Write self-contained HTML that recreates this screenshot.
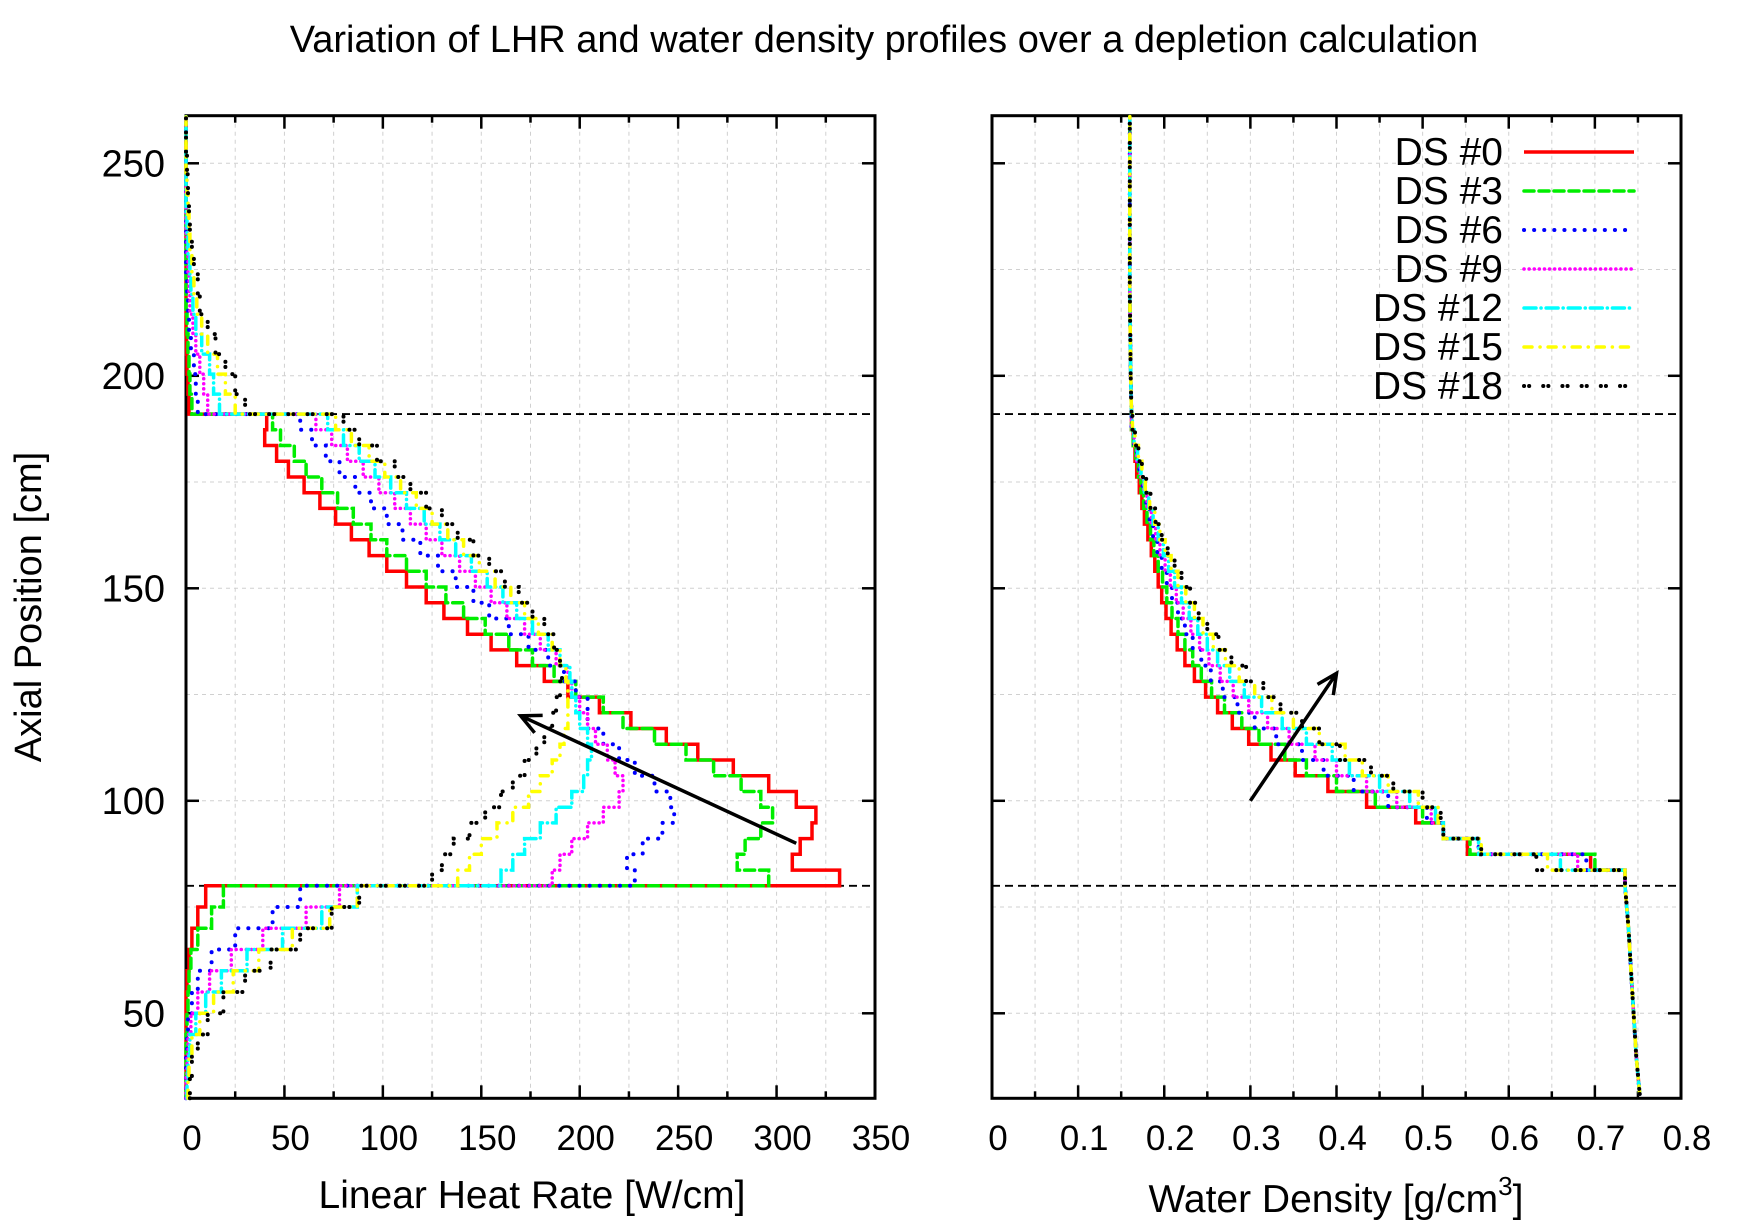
<!DOCTYPE html>
<html><head><meta charset="utf-8"><style>
html,body{margin:0;padding:0;background:#fff;}
svg text{font-family:"Liberation Sans",sans-serif;fill:#000;}
</style></head><body>
<svg id="chart" xmlns="http://www.w3.org/2000/svg" width="1750" height="1225" viewBox="0 0 1750 1225">
<rect x="0" y="0" width="1750" height="1225" fill="#fff"/>
<text x="884" y="52" font-size="38" text-anchor="middle">Variation of LHR and water density profiles over a depletion calculation</text>
<text x="0" y="0" font-size="38" text-anchor="middle" transform="translate(41,607) rotate(-90)">Axial Position [cm]</text>
<text x="532" y="1208" font-size="39" text-anchor="middle">Linear Heat Rate [W/cm]</text>
<text x="1336" y="1212" font-size="39" text-anchor="middle">Water Density [g/cm<tspan dy="-17" font-size="26">3</tspan><tspan dy="17">]</tspan></text>
<g id="plots"></g>
</svg>
<script>
// ---------- data ----------
const seriesNames = ["DS #0","DS #3","DS #6","DS #9","DS #12","DS #15","DS #18"];
const yTicks = [50,100,150,200,250];
const lhrTicks = [0,50,100,150,200,250,300,350];
const denTicks = [0,0.1,0.2,0.3,0.4,0.5,0.6,0.7,0.8];
const boundaryLines = [80,191];
// LHR lower region: 10 segments (30..80, 5 cm), bottom-up
const lhrLow = [
 [0,0,0,0,0,0.5,1.5,3,6,10],
 [0,0,0,0.5,1,1.5,2.5,6,13,19],
 [0,0,0.5,1,3,6,13,25,44,58],
 [0,0.5,1,2.5,6,12,23,39,61,78],
 [0.5,1,2,5,10,18,31,49,69,87],
 [1,1.5,3,7,14,24,37,54,73,87],
 [2,3,6,11,19,30,43,58,74,88]
];
// LHR core region: 30 segments (80..191), bottom-up
const lhrMid = [
 [332,308,312,318,320,310,296,278,260,244,226,210,194,182,168,155,143,131,122,112,102,93,84,76,68,60,52,46,40,41],
 [296,280,284,292,298,292,282,268,254,238,222,212,198,187,176,164,152,141,132,122,112,102,94,85,77,69,61,55,48,44],
 [228,224,232,242,248,246,238,228,220,212,204,204,198,192,184,174,164,154,146,137,128,119,110,102,94,86,78,71,64,58],
 [186,190,196,204,212,220,222,218,214,208,204,200,196,194,188,180,172,163,155,147,139,130,122,114,106,98,90,82,74,66],
 [160,166,172,180,188,196,202,204,206,204,200,198,196,195,190,184,176,168,161,153,145,137,129,121,112,104,96,88,80,72],
 [138,144,150,158,166,174,180,186,190,192,194,194,194,193,190,186,179,172,165,157,149,141,133,125,117,109,101,93,84,76],
 [125,130,136,144,152,160,166,172,178,182,186,188,190,191,190,187,182,176,169,162,154,146,138,130,122,114,106,97,88,80]
];
// LHR upper region: 14 segments (191..~257, 4.7 cm), bottom-up
const lhrTop = [
 [1.5,1,0.5,0.3,0,0,0,0,0,0,0,0,0,0],
 [3,2,1.5,1,0.5,0,0,0,0,0,0,0,0,0],
 [6,5,4,2.5,1.5,1,0.5,0,0,0,0,0,0,0],
 [11,9,7,5,3.5,2,1.5,1,0.5,0,0,0,0,0],
 [17,14,12,8,5,3.5,2.5,2,1,0.5,0,0,0,0],
 [25,20,16,11,8,5.5,4,3,2,1.5,1,0.5,0,0],
 [30,25,20,15,11,7,6,4,3,2,1.5,1,0.5,0]
];
// Water density core region: 30 segments (80..191), bottom-up
const denMid = [
 [0.735,0.695,0.552,0.524,0.492,0.435,0.39,0.352,0.324,0.298,0.279,0.262,0.248,0.235,0.224,0.215,0.208,0.202,0.197,0.193,0.189,0.185,0.181,0.177,0.174,0.171,0.168,0.166,0.164,0.162],
 [0.735,0.70,0.555,0.524,0.50,0.445,0.40,0.365,0.34,0.31,0.29,0.27,0.255,0.243,0.233,0.224,0.216,0.209,0.203,0.198,0.193,0.188,0.184,0.18,0.176,0.173,0.17,0.167,0.164,0.162],
 [0.735,0.69,0.565,0.524,0.505,0.46,0.42,0.385,0.36,0.33,0.305,0.285,0.268,0.254,0.243,0.233,0.224,0.216,0.209,0.203,0.197,0.192,0.187,0.183,0.179,0.175,0.171,0.168,0.165,0.162],
 [0.735,0.68,0.565,0.524,0.51,0.47,0.435,0.40,0.375,0.345,0.32,0.298,0.28,0.265,0.252,0.241,0.231,0.222,0.214,0.207,0.201,0.195,0.19,0.185,0.18,0.176,0.172,0.168,0.165,0.162],
 [0.735,0.66,0.565,0.524,0.515,0.485,0.45,0.415,0.395,0.365,0.337,0.313,0.293,0.276,0.262,0.25,0.239,0.229,0.22,0.212,0.205,0.199,0.193,0.187,0.182,0.177,0.173,0.169,0.165,0.163],
 [0.735,0.645,0.568,0.524,0.518,0.495,0.46,0.43,0.41,0.38,0.35,0.325,0.305,0.287,0.271,0.257,0.245,0.235,0.225,0.216,0.208,0.201,0.195,0.189,0.183,0.178,0.174,0.17,0.166,0.163],
 [0.735,0.632,0.568,0.524,0.521,0.50,0.466,0.44,0.404,0.38,0.36,0.335,0.315,0.295,0.278,0.263,0.25,0.24,0.23,0.22,0.212,0.204,0.197,0.19,0.184,0.179,0.174,0.17,0.166,0.163]
];
const denLowZ = [31,40,50,60,70,80];
const denLow = [0.752,0.748,0.745,0.742,0.739,0.735];
const denTopZ = [191,200,220,240,261];
const denTop = [0.162,0.161,0.160,0.160,0.160];
const arrowL = [[310,90],[170,120]];
const arrowR = [[0.3,100],[0.4,130]];

// ---------- layout ----------
const NS="http://www.w3.org/2000/svg";
const TOP=115.7, BOT=1098.3;
const yS = v => 163.3 + (250 - v)*4.25;
const L0=186, L1=875, R0=992, R1=1681;
const xL = v => L0 + v*(L1-L0)/350;
const xR = v => R0 + v*(R1-R0)/0.8;
const colors=["#ff0000","#00ee00","#0000ff","#ff00ff","#00ffff","#ffff00","#000000"];
const dashes=["none","10 5","0.1 10","0.1 5","12 5 0.1 5","8 8 0.1 8","0.1 5 0.1 14"];
const widths=[3.5,3.5,4,3.5,3.5,3.5,4];
const g=document.getElementById('plots');
function mk(tag,attrs,parent){const e=document.createElementNS(NS,tag);for(const k in attrs)e.setAttribute(k,attrs[k]);(parent||g).appendChild(e);return e;}

function axes(x0,x1,xf,ticks,minorStep,maxV,prefix,fmt){
  const grp=mk('g',{});
  
  
  for(let v=minorStep; v<maxV-1e-9; v+=minorStep){
    mk('line',{x1:xf(v),x2:xf(v),y1:TOP,y2:BOT,stroke:'#d0d0d0','stroke-width':1,'stroke-dasharray':'4 4'},grp);
  }
  for(let v=50; v<=250; v+=25){
    mk('line',{x1:x0,x2:x1,y1:yS(v),y2:yS(v),stroke:'#d0d0d0','stroke-width':1,'stroke-dasharray':'4 4'},grp);
  }
  for(let v=0; v<=maxV+1e-9; v+=minorStep){
    const major = Math.abs(Math.round(v/(2*minorStep))*(2*minorStep)-v)<1e-9;
    const len = major?13:7;
    mk('line',{x1:xf(v),x2:xf(v),y1:BOT,y2:BOT-len,stroke:'#000','stroke-width':2.5},grp);
    mk('line',{x1:xf(v),x2:xf(v),y1:TOP,y2:TOP+len,stroke:'#000','stroke-width':2.5},grp);
  }
  ticks.forEach(v=>{
    const t=mk('text',{x:xf(v)+6,y:1150,'font-size':35,'text-anchor':'middle'},grp);
    
    
    t.textContent=fmt(v);
  });
  yTicks.forEach(v=>{
    mk('line',{x1:x0,x2:x0+13,y1:yS(v),y2:yS(v),stroke:'#000','stroke-width':2.5},grp);
    mk('line',{x1:x1,x2:x1-13,y1:yS(v),y2:yS(v),stroke:'#000','stroke-width':2.5},grp);
  });
  const fr=mk('rect',{x:x0,y:TOP,width:x1-x0,height:BOT-TOP,fill:'none',stroke:'#000','stroke-width':3},grp);
  
  
  boundaryLines.forEach(v=>{
    const l=mk('line',{x1:x0,x2:x1,y1:yS(v),y2:yS(v),stroke:'#000','stroke-width':1.8,'stroke-dasharray':'8 5'},grp);
    
    
  });
}
axes(L0,L1,xL,lhrTicks,25,350,'lhr',v=>String(v));
axes(R0,R1,xR,denTicks,0.05,0.8,'density',v=>v===0?'0':v.toFixed(1));
yTicks.forEach(v=>{
  const t=mk('text',{x:165,y:yS(v)+13,'font-size':38,'text-anchor':'end'});
  
  
  t.textContent=String(v);
});

function stepPath(segs,xf){
  let d='';
  segs.forEach((s,i)=>{
    d+=(i===0?'M':'L')+xf(s.v).toFixed(1)+','+yS(s.lo).toFixed(1);
    d+='L'+xf(s.v).toFixed(1)+','+yS(s.hi).toFixed(1);
  });
  return d;
}
for(let k=0;k<7;k++){
  const segs=[];
  lhrLow[k].forEach((v,i)=>segs.push({lo:30+5*i,hi:35+5*i,v:v}));
  lhrMid[k].forEach((v,i)=>segs.push({lo:80+i*111/30,hi:80+(i+1)*111/30,v:v}));
  lhrTop[k].forEach((v,i)=>segs.push({lo:191+4.7*i,hi:191+4.7*(i+1),v:v}));
  segs.push({lo:191+4.7*14,hi:261,v:0});
  const p=mk('path',{d:stepPath(segs,xL),fill:'none',stroke:colors[k],'stroke-width':widths[k],'stroke-dasharray':dashes[k],'stroke-linecap':k===0?'butt':'round','stroke-linejoin':'miter'});
  
  
}
for(let k=0;k<7;k++){
  let d='';
  denLow.forEach((v,i)=>{d+=(i===0?'M':'L')+xR(v).toFixed(1)+','+yS(denLowZ[i]).toFixed(1);});
  denMid[k].forEach((v,i)=>{
    d+='L'+xR(v).toFixed(1)+','+yS(80+i*111/30).toFixed(1);
    d+='L'+xR(v).toFixed(1)+','+yS(80+(i+1)*111/30).toFixed(1);
  });
  denTop.forEach((v,i)=>{d+='L'+xR(v).toFixed(1)+','+yS(denTopZ[i]).toFixed(1);});
  const p=mk('path',{d:d,fill:'none',stroke:colors[k],'stroke-width':widths[k],'stroke-dasharray':dashes[k],'stroke-linecap':k===0?'butt':'round'});
  
  
}
function arrow(pts,xf,name){
  const x1=xf(pts[0][0]),y1=yS(pts[0][1]),x2=xf(pts[1][0]),y2=yS(pts[1][1]);
  const a=Math.atan2(y2-y1,x2-x1), h=22, sp=0.45;
  const d='M'+x1+','+y1+'L'+x2+','+y2+
   'M'+(x2-h*Math.cos(a-sp))+','+(y2-h*Math.sin(a-sp))+'L'+x2+','+y2+'L'+(x2-h*Math.cos(a+sp))+','+(y2-h*Math.sin(a+sp));
  const p=mk('path',{d:d,fill:'none',stroke:'#000','stroke-width':3.5});
  
  
}
arrow(arrowL,xL,'lhr-trend-arrow');
arrow(arrowR,xR,'density-trend-arrow');
const lg=mk('g',{});


seriesNames.forEach((n,k)=>{
  const yy=152+k*39;
  const t=mk('text',{x:1503,y:yy+13,'font-size':39,'text-anchor':'end'},lg);
  
  
  t.textContent=n;
  const l=mk('line',{x1:1524,x2:1634,y1:yy,y2:yy,stroke:colors[k],'stroke-width':widths[k],'stroke-dasharray':dashes[k],'stroke-linecap':k===0?'butt':'round'},lg);
  
  
});
</script>
</body></html>
